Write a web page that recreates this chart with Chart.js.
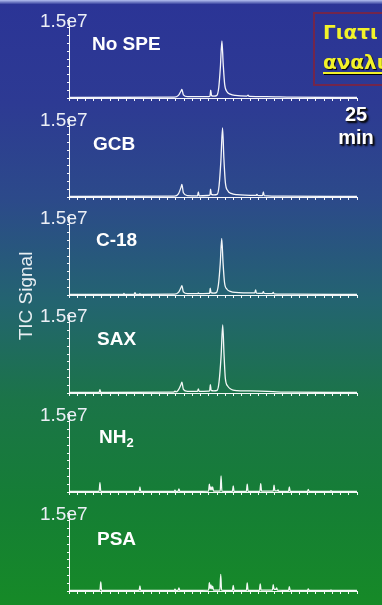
<!DOCTYPE html>
<html><head><meta charset="utf-8">
<script src="https://cdn.jsdelivr.net/npm/chart.js@4"></script>
<style>
html,body{margin:0;padding:0;width:382px;height:605px;overflow:hidden;}
body{position:relative;background:linear-gradient(to bottom,#2b3496 0%,#2d3a93 17%,#2c4a8a 33%,#236470 50%,#1b7448 66%,#157e35 83%,#168a27 100%);font-family:"Liberation Sans",Arial,sans-serif;}
.topband{position:absolute;left:0;top:0;width:382px;height:4px;background:linear-gradient(#b4c0f0,#3a44a0);}
canvas.panel{position:absolute;left:0;}
.lbl{position:absolute;color:#fff;font-weight:bold;font-size:19px;line-height:19px;white-space:nowrap;}
.lbl sub{font-size:13px;vertical-align:-4px;line-height:0;}
.ylab{position:absolute;left:26px;top:296px;color:#e8eef2;font-size:19px;white-space:nowrap;transform:translate(-50%,-50%) rotate(-90deg);}
.minlab{position:absolute;left:326px;top:103px;width:60px;text-align:center;color:#fff;font-weight:bold;font-size:20px;line-height:23px;text-shadow:1px 1px 1px #111,2px 2px 2px #000;}
.box{position:absolute;left:313px;top:12px;width:120px;height:70px;border:2px solid #72264c;}
.gr{position:absolute;left:8px;color:#f2f22a;font-family:"DejaVu Sans",sans-serif;font-weight:bold;font-size:20px;line-height:20px;white-space:nowrap;}
.gr.u{text-decoration:underline;text-decoration-thickness:2px;text-underline-offset:3px;text-shadow:1px 1px 1px #000;}
</style></head>
<body>
<div class="topband"></div>
<script>
// Shared axis definitions
const timeMin = 7.5, timeMax = 25, timeStep = 0.5;      // retention time (min)
const sigMax = 15, sigStep = 1.5;                        // TIC signal (x 1e6)
const yTopLabel = '1.5e7';
const panelNames = ['No SPE', 'GCB', 'C-18', 'SAX', 'NH<sub>2</sub>', 'PSA'];

// Chromatogram traces: retention time (min) and TIC signal (x 1e6)
const tNoSPE = [7.5, 13.9, 14.15, 14.3, 14.36, 14.45, 14.7, 16.0, 16.07, 16.11, 16.16, 16.3, 16.47, 16.6, 16.7, 16.79, 16.87, 16.96, 17.1, 17.3, 17.6, 18.3, 18.38, 18.46, 19.5, 21.0, 25.0];
const yNoSPE = [0.1, 0.15, 0.5, 1.3, 1.65, 0.6, 0.25, 0.25, 0.4, 1.5, 0.45, 0.35, 0.45, 2.0, 6.0, 11.0, 6.5, 2.6, 1.2, 0.75, 0.5, 0.35, 0.55, 0.3, 0.25, 0.15, 0.1];

const tGCB = [7.5, 13.9, 14.15, 14.3, 14.36, 14.45, 14.7, 15.31, 15.36, 15.41, 16.0, 16.07, 16.1, 16.15, 16.3, 16.5, 16.62, 16.73, 16.83, 16.91, 17.0, 17.15, 17.35, 17.7, 18.87, 18.92, 18.97, 19.26, 19.31, 19.36, 20.5, 25.0];
const yGCB = [0.1, 0.15, 0.6, 1.8, 2.4, 0.8, 0.25, 0.2, 1.0, 0.2, 0.3, 0.5, 1.5, 0.5, 0.4, 0.5, 2.2, 7.0, 13.3, 7.5, 2.8, 1.2, 0.7, 0.45, 0.3, 0.5, 0.3, 0.25, 1.0, 0.25, 0.15, 0.1];

const tC18 = [7.5, 10.8, 10.84, 10.88, 11.46, 11.51, 11.56, 11.77, 11.81, 11.85, 13.9, 14.15, 14.3, 14.36, 14.45, 14.7, 15.31, 15.36, 15.41, 16.0, 16.05, 16.08, 16.13, 16.3, 16.45, 16.58, 16.69, 16.78, 16.86, 16.95, 17.1, 17.3, 17.6, 18.79, 18.84, 18.89, 19.26, 19.31, 19.36, 19.86, 19.91, 19.96, 21.0, 25.0];
const yC18 = [0.1, 0.1, 0.3, 0.1, 0.12, 0.45, 0.12, 0.12, 0.25, 0.12, 0.15, 0.5, 1.4, 1.8, 0.6, 0.25, 0.25, 0.4, 0.25, 0.3, 0.45, 1.3, 0.45, 0.35, 0.45, 2.0, 6.0, 10.9, 6.2, 2.4, 1.1, 0.7, 0.5, 0.4, 1.0, 0.35, 0.3, 0.65, 0.3, 0.25, 0.5, 0.22, 0.15, 0.1];

const tSAX = [7.5, 9.33, 9.38, 9.43, 13.85, 13.94, 14.02, 14.15, 14.3, 14.36, 14.45, 14.7, 15.31, 15.36, 15.41, 16.0, 16.05, 16.09, 16.14, 16.3, 16.5, 16.62, 16.74, 16.84, 16.92, 17.0, 17.15, 17.3, 17.47, 17.7, 18.38, 19.1, 19.9, 21.0, 25.0];
const ySAX = [0.1, 0.1, 0.65, 0.1, 0.15, 0.35, 0.2, 0.6, 1.6, 2.1, 0.7, 0.3, 0.3, 0.8, 0.3, 0.35, 0.5, 1.6, 0.5, 0.4, 0.5, 2.2, 7.0, 13.1, 7.4, 2.8, 1.3, 0.8, 0.55, 0.45, 0.4, 0.35, 0.25, 0.15, 0.1];

const tNH2 = [7.5, 9.33, 9.38, 9.43, 11.76, 11.81, 11.86, 13.9, 13.94, 13.98, 14.13, 14.18, 14.23, 15.98, 16.03, 16.08, 16.13, 16.18, 16.23, 16.28, 16.69, 16.74, 16.79, 17.43, 17.48, 17.53, 18.28, 18.33, 18.38, 19.1, 19.15, 19.2, 19.91, 19.96, 20.01, 20.15, 20.2, 20.25, 20.84, 20.89, 20.94, 21.99, 22.04, 22.09, 23.37, 23.42, 23.47, 25.0];
const yNH2 = [0.1, 0.1, 1.8, 0.1, 0.1, 0.96, 0.1, 0.1, 0.35, 0.1, 0.1, 0.6, 0.1, 0.15, 1.5, 0.4, 1.0, 0.4, 1.0, 0.15, 0.15, 3.1, 0.15, 0.1, 1.15, 0.1, 0.1, 1.5, 0.12, 0.12, 1.6, 0.15, 0.15, 1.3, 0.2, 0.2, 0.4, 0.12, 0.12, 0.96, 0.1, 0.1, 0.5, 0.1, 0.1, 0.25, 0.1, 0.1];

const tPSA = [7.5, 9.38, 9.43, 9.48, 11.76, 11.81, 11.86, 13.9, 13.94, 13.98, 14.13, 14.18, 14.23, 15.98, 16.03, 16.08, 16.13, 16.18, 16.23, 16.28, 16.67, 16.72, 16.77, 17.43, 17.48, 17.53, 18.28, 18.33, 18.38, 19.07, 19.12, 19.17, 19.86, 19.91, 19.96, 20.07, 20.12, 20.17, 20.84, 20.89, 20.94, 21.99, 22.04, 22.09, 23.37, 23.42, 23.47, 25.0];
const yPSA = [0.1, 0.1, 1.73, 0.1, 0.1, 0.96, 0.1, 0.1, 0.35, 0.1, 0.1, 0.6, 0.1, 0.15, 1.6, 0.45, 1.15, 0.4, 0.95, 0.15, 0.15, 3.2, 0.15, 0.1, 1.1, 0.1, 0.1, 1.54, 0.12, 0.12, 1.35, 0.15, 0.15, 1.2, 0.3, 0.3, 0.6, 0.15, 0.12, 0.85, 0.1, 0.1, 0.4, 0.1, 0.1, 0.2, 0.1, 0.1];

const traceTimes = [tNoSPE, tGCB, tC18, tSAX, tNH2, tPSA];
const traceSignals = [yNoSPE, yGCB, yC18, ySAX, yNH2, yPSA];

// Layout (pixels)
const panelAxisY = [98, 197, 295, 393, 492, 591];
const panelLabelPos = [[92, 34], [93, 134], [96, 230], [97, 329], [99, 427], [97, 529]];

const white = 'rgba(255,255,255,0.95)';
panelNames.forEach((name, i) => {
  const cv = document.createElement('canvas');
  cv.className = 'panel';
  cv.width = 382; cv.height = 100;
  cv.style.width = '382px'; cv.style.height = '100px';
  cv.style.top = (panelAxisY[i] - 90) + 'px';
  document.body.appendChild(cv);
  const pts = traceTimes[i].map((t, k) => ({x: t, y: traceSignals[i][k]}));
  new Chart(cv.getContext('2d'), {
    type: 'line',
    data: {datasets: [{data: pts, borderColor: white, borderWidth: 1.3, pointRadius: 0, fill: false, cubicInterpolationMode: 'monotone'}]},
    options: {
      responsive: false, animation: false, devicePixelRatio: 1,
      layout: {padding: {top: 12, right: 25, left: 0, bottom: 0}},
      plugins: {legend: {display: false}, tooltip: {enabled: false}, title: {display: false}},
      scales: {
        x: {type: 'linear', min: timeMin, max: timeMax,
            ticks: {display: false, stepSize: timeStep},
            grid: {drawOnChartArea: false, drawTicks: true, tickLength: 3, color: white, lineWidth: 1},
            border: {display: true, color: white, width: 1},
            afterFit: s => { s.height = 10; }},
        y: {min: 0, max: sigMax,
            ticks: {stepSize: sigStep, autoSkip: false, mirror: true, padding: -29, labelOffset: 2, color: '#eceff6',
                    font: {family: '"Liberation Sans", Arial, sans-serif', size: 19},
                    callback: (v, idx, arr) => idx === arr.length - 1 ? yTopLabel : ''},
            grid: {drawOnChartArea: false, drawTicks: true, tickLength: 2, color: white},
            border: {display: true, color: white, width: 1, dash: [1, 2]},
            afterFit: s => { s.width = 69; }}
      }
    }
  });
  const d = document.createElement('div');
  d.className = 'lbl';
  d.style.left = panelLabelPos[i][0] + 'px';
  d.style.top = panelLabelPos[i][1] + 'px';
  d.innerHTML = name;
  document.body.appendChild(d);
});
</script>
<div class="ylab">TIC Signal</div>
<div class="minlab">25<br>min</div>
<div class="box">
  <div class="gr" style="top:8px;">Γιατι</div>
  <div class="gr u" style="top:38px;">αναλυ</div>
</div>
</body></html>
